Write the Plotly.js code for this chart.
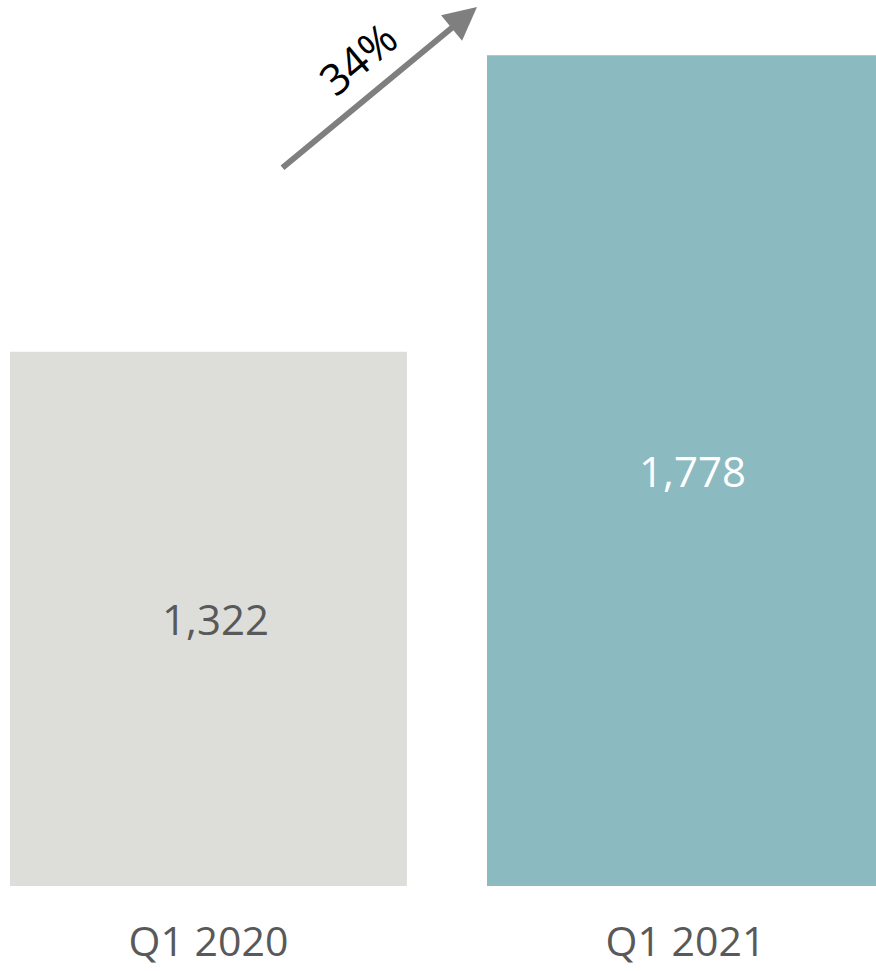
<!DOCTYPE html>
<html>
<head>
<meta charset="utf-8">
<script src="https://cdn.plot.ly/plotly-3.0.1.min.js"></script>
<style>html,body{margin:0;padding:0;background:#fff;}#chart{width:876px;height:971px;}</style>
</head>
<body>
<div id="chart"></div>
<script>
const categories = ["Q1 2020", "Q1 2021"];
const values = [1322, 1778];
const valueLabels = ["1,322", "1,778"];
const barColors = ["#DDDED9", "#8BBAC1"];
const labelColors = ["#595959", "#FFFFFF"];
const growthLabel = "34%";
const axisBase = 500;

const W = 876, H = 971;
const marginB = 85;
const plotH = H - marginB;

const trace = {
  type: "bar",
  x: categories,
  y: values.map(v => v - axisBase),
  base: axisBase,
  width: 0.832,
  marker: { color: barColors },
  hoverinfo: "none",
  cliponaxis: false
};

const valueAnnotations = categories.map((c, i) => ({
  xref: "x", yref: "y",
  x: c, y: (axisBase + values[i]) / 2,
  xshift: 7,
  text: valueLabels[i], showarrow: false,
  xanchor: "center", yanchor: "middle",
  font: { family: "Open Sans, sans-serif", size: 42, color: labelColors[i] }
}));

const layout = {
  width: W, height: H,
  margin: { l: 0, r: 0, t: 0, b: marginB, pad: 0 },
  paper_bgcolor: "#ffffff",
  plot_bgcolor: "#ffffff",
  showlegend: false,
  xaxis: {
    type: "category",
    range: [-0.437, 1.3995],
    showgrid: false, zeroline: false, showline: false,
    ticks: "", ticklen: 0,
    tickfont: { family: "Open Sans, sans-serif", size: 41, color: "#595959" },
    ticklabelstandoff: 28
  },
  yaxis: {
    range: [500, 1863],
    visible: false,
    showgrid: false, zeroline: false
  },
  annotations: valueAnnotations.concat([
    {
      xref: "paper", yref: "paper",
      x: 477 / W, y: (plotH - 7) / plotH,
      ax: -196, ay: 162, axref: "pixel", ayref: "pixel",
      text: "", showarrow: true,
      arrowhead: 2, arrowsize: 1.1, arrowwidth: 6, arrowcolor: "#7F7F7F",
      standoff: 0, startstandoff: 0
    },
    {
      xref: "paper", yref: "paper",
      x: 357 / W, y: (plotH - 58) / plotH,
      xanchor: "center", yanchor: "middle",
      text: growthLabel, showarrow: false,
      textangle: -40,
      font: { family: "Open Sans, sans-serif", size: 43, color: "#000000" }
    }
  ])
};

Plotly.newPlot("chart", [trace], layout, { staticPlot: true, displayModeBar: false });
</script>
</body>
</html>
